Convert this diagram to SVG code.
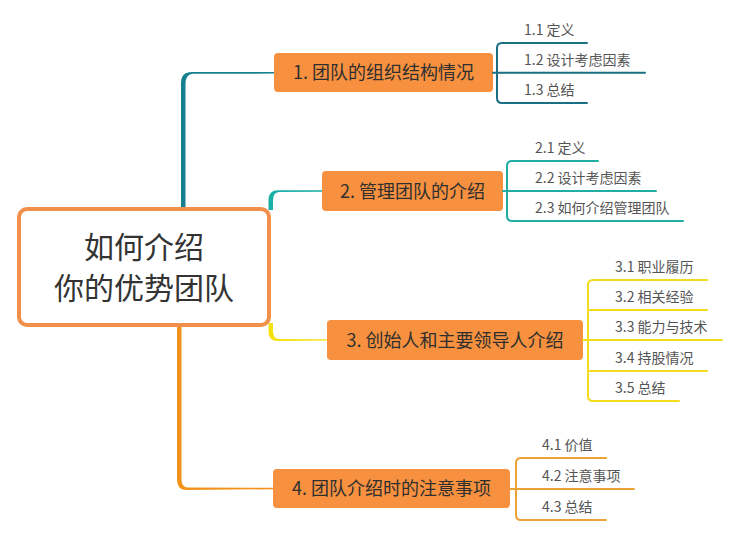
<svg xmlns="http://www.w3.org/2000/svg" width="738" height="535" viewBox="0 0 738 535">
<style>
.node rect{fill:#F7913F;}
.node text{font-family:"Noto Sans CJK SC","Noto Sans",sans-serif;font-size:18px;fill:#2f2f2f;text-anchor:middle;}
.sub text{font-family:"Noto Sans CJK SC","Noto Sans",sans-serif;font-size:14px;fill:#555;}
.sub path{fill:none;stroke-width:2;stroke-linecap:round;}
.c1{stroke:#1B6F82;} .c2{stroke:#1FADA4;} .c3{stroke:#F2DC1C;} .c4{stroke:#E9A233;}
</style>
<rect width="738" height="535" fill="#fff"/>
<g id="connectors">
  <path d="M181,208 L181,83 Q181,72 192,72 L274,72 L274,73.6 L193,73.8 Q185.5,74 185.5,84 L185.5,208 Z" fill="#15808F"/>
  <path d="M268.5,210 L268.5,200 Q268.5,190.2 278,190.2 L322,190.2 L322,191.8 L279,192 Q273,192.2 273,201 L273,210 Z" fill="#1AB0A6"/>
  <path d="M268.5,323 L268.5,332 Q268.5,341 278,341 L327,340.6 L327,339.2 L279,339 Q273,338.8 273,331 L273,323 Z" fill="#F3E10C"/>
  <path d="M177,326 L177,480 Q177,490 187,490 L273,489.2 L273,487.8 L188,487.6 Q181.5,487.4 181.5,479 L181.5,326 Z" fill="#F1931B"/>
</g>
<g id="center">
  <rect x="19" y="209" width="250" height="116" rx="8" fill="#fff" stroke="#F0904A" stroke-width="4"/>
  <text x="144" y="258" font-family="'Noto Sans CJK SC','Noto Sans',sans-serif" font-size="30" fill="#333" text-anchor="middle">如何介绍</text>
  <text x="144" y="299" font-family="'Noto Sans CJK SC','Noto Sans',sans-serif" font-size="30" fill="#333" text-anchor="middle">你的优势团队</text>
</g>
<g id="node1" class="node">
  <rect x="274" y="53" width="219" height="39" rx="4"/>
  <text x="383.5" y="79">1. 团队的组织结构情况</text>
</g>
<g id="node2" class="node">
  <rect x="322" y="171" width="181" height="40" rx="4"/>
  <text x="412.5" y="197.5">2. 管理团队的介绍</text>
</g>
<g id="node3" class="node">
  <rect x="327" y="320" width="256" height="40" rx="4"/>
  <text x="455" y="346.5">3. 创始人和主要领导人介绍</text>
</g>
<g id="node4" class="node">
  <rect x="273" y="469" width="237" height="39" rx="4"/>
  <text x="391.5" y="495">4. 团队介绍时的注意事项</text>
</g>
<g id="sub1" class="sub">
  <path class="c1" d="M587,43 L502,43 Q497,43 497,48 L497,98 Q497,103 502,103 L587,103 M493,72.7 L645,72.7"/>
  <text x="524" y="35">1.1 定义</text>
  <text x="524" y="65">1.2 设计考虑因素</text>
  <text x="524" y="95">1.3 总结</text>
</g>
<g id="sub2" class="sub">
  <path class="c2" d="M598,161 L512,161 Q507,161 507,166 L507,216 Q507,221 512,221 L683,221 M503,191 L656,191"/>
  <text x="535" y="153">2.1 定义</text>
  <text x="535" y="183">2.2 设计考虑因素</text>
  <text x="535" y="213">2.3 如何介绍管理团队</text>
</g>
<g id="sub3" class="sub">
  <path class="c3" d="M707,280 L593,280 Q588,280 588,285 L588,396 Q588,401 593,401 L679,401 M588,310 L707,310 M583,340 L722,340 M588,371 L707,371"/>
  <text x="615" y="272">3.1 职业履历</text>
  <text x="615" y="302">3.2 相关经验</text>
  <text x="615" y="332">3.3 能力与技术</text>
  <text x="615" y="363">3.4 持股情况</text>
  <text x="615" y="393">3.5 总结</text>
</g>
<g id="sub4" class="sub">
  <path class="c4" d="M606,458 L521,458 Q516,458 516,463 L516,515 Q516,520 521,520 L606,520 M510,489 L634,489"/>
  <text x="542" y="450">4.1 价值</text>
  <text x="542" y="481">4.2 注意事项</text>
  <text x="542" y="512">4.3 总结</text>
</g>
</svg>
